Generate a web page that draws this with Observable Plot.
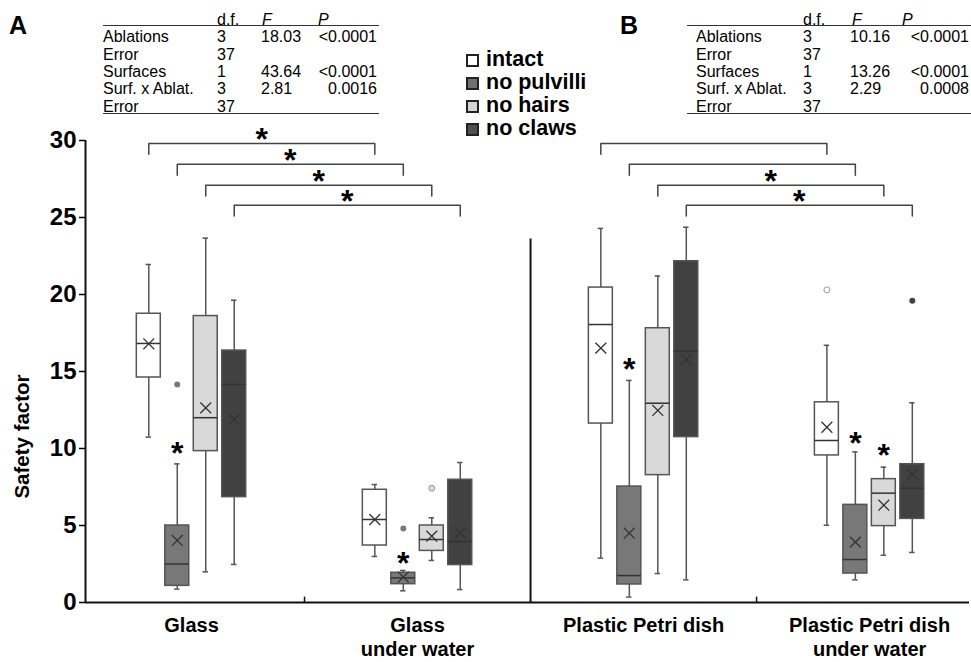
<!DOCTYPE html>
<html><head><meta charset="utf-8">
<script src="https://cdn.jsdelivr.net/npm/d3@7"></script>
<script src="https://cdn.jsdelivr.net/npm/@observablehq/plot@0.6"></script>
<style>
body{margin:0;background:#fff;font-family:"Liberation Sans",Arial,sans-serif;}
#wrap{position:relative;width:971px;height:662px;overflow:hidden;background:#fff}
#wrap svg{position:absolute;left:0;top:0}
.abs{position:absolute;white-space:nowrap;color:#000}
.tbl{font-size:16px;line-height:17px}
.rule{position:absolute;height:0;border-top:1.5px solid #333}
.leg{font-size:21.5px;font-weight:bold;line-height:23px}
.sw{position:absolute;width:13px;height:13px;box-sizing:border-box;border:2px solid #222}
.panel{font-size:25px;font-weight:bold;line-height:25px}
</style></head><body><div id="wrap"></div>
<script>
// ---- data ----
const ablations = ["intact", "no pulvilli", "no hairs", "no claws"];
const surfaceLabels = ["Glass", "Glass\nunder water", "Plastic Petri dish", "Plastic Petri dish\nunder water"];
const yTicks = [0, 5, 10, 15, 20, 25, 30];
// [surface][ablation]
const whiskerHigh = [[21.95, 9.0, 23.66, 19.63], [7.66, 2.08, 5.5, 9.09], [24.29, 14.42, 21.2, 24.37], [16.7, 9.78, 8.79, 12.97]];
const upperQuartile = [[18.75, 5.0, 18.6, 16.36], [7.32, 1.93, 5.0, 7.97], [20.45, 7.53, 17.81, 22.16], [13.0, 6.34, 8.01, 8.98]];
const medians = [[16.82, 2.5, 12.0, 14.16], [5.39, 1.6, 4.09, 3.96], [18.05, 1.75, 12.94, 16.32], [10.52, 2.79, 7.10, 7.42]];
const lowerQuartile = [[14.61, 1.08, 9.83, 6.84], [3.70, 1.19, 3.35, 2.43], [11.62, 1.17, 8.27, 10.74], [9.55, 1.88, 4.96, 5.43]];
const whiskerLow = [[10.74, 0.87, 1.99, 2.47], [2.99, 0.76, 2.73, 0.84], [2.88, 0.35, 1.88, 1.47], [5.02, 1.47, 3.07, 3.25]];
const means = [[16.8, 4.03, 12.64, 11.9], [5.39, 1.65, 4.31, 4.52], [16.52, 4.5, 12.47, 15.78], [11.38, 3.92, 6.32, 8.33]];
// outliers
const outlierSurface = [0, 1, 1, 3, 3];
const outlierAblation = [1, 1, 2, 0, 3];
const outlierValue = [14.16, 4.8, 7.42, 20.3, 19.6];
// significance stars above single boxes
const starSurface = [0, 1, 2, 3, 3];
const starAblation = [1, 1, 1, 1, 2];
const starValue = [9.9, 2.8, 15.4, 10.6, 9.76];
// brackets comparing surfaces (panel A: 0 vs 1, panel B: 2 vs 3)
const bracketLevels = [29.8, 28.45, 27.1, 25.8];
const bracketSignifA = [true, true, true, true];
const bracketSignifB = [false, false, true, true];
const dividerTop = 23.6;
// ANOVA tables
const anovaSources = ["Ablations", "Error", "Surfaces", "Surf. x Ablat.", "Error"];
const anovaDf = ["3", "37", "1", "3", "37"];
const anovaFA = ["18.03", "", "43.64", "2.81", ""];
const anovaPA = ["<0.0001", "", "<0.0001", "0.0016", ""];
const anovaFB = ["10.16", "", "13.26", "2.29", ""];
const anovaPB = ["<0.0001", "", "<0.0001", "0.0008", ""];

// ---- styles / layout ----
const fills = ["#ffffff", "#787878", "#d9d9d9", "#414141"];
const legendFills = ["#ffffff", "#707070", "#d4d4d4", "#505050"];
const DODGE = 0.126, HALF = 0.053, CAP = 0.012;
const xDomain = [-0.469, 3.442];
const pos = (s, a) => s + (a - 1.5) * DODGE;

const boxes = [];
surfaceLabels.forEach((_, s) => ablations.forEach((ab, a) => boxes.push({
  ablation: ab, x: pos(s, a),
  lo: whiskerLow[s][a], q1: lowerQuartile[s][a], med: medians[s][a],
  q3: upperQuartile[s][a], hi: whiskerHigh[s][a], mean: means[s][a]
})));
const outliers = outlierValue.map((v, i) => ({ablation: ablations[outlierAblation[i]], x: pos(outlierSurface[i], outlierAblation[i]), y: v}));
const stars = starValue.map((v, i) => ({x: pos(starSurface[i], starAblation[i]), y: v}));
const brackets = [], bracketStars = [];
[[0, bracketSignifA], [1, bracketSignifB]].forEach(([p, sig]) => {
  bracketLevels.forEach((lv, a) => {
    const xl = pos(p * 2, a), xr = pos(p * 2 + 1, a), id = p + "-" + a;
    brackets.push({id, x: xl, y: lv - 0.7}, {id, x: xl, y: lv}, {id, x: xr, y: lv}, {id, x: xr, y: lv - 0.7});
    if (sig[a]) bracketStars.push({x: (xl + xr) / 2, y: lv});
  });
});

const chart = Plot.plot({
  width: 971, height: 662,
  marginLeft: 85, marginRight: 2, marginTop: 140, marginBottom: 60,
  style: {fontFamily: "'Liberation Sans', Arial, sans-serif", color: "#000", background: "transparent", overflow: "visible"},
  x: {domain: xDomain},
  y: {domain: [0, 30]},
  color: {domain: ablations, range: fills},
  marks: [
    Plot.axisY({ticks: yTicks, tickSize: 6, tickPadding: 3, fontSize: 24, fontWeight: "bold", label: null, strokeWidth: 1.5}),
    Plot.axisX({ticks: [0, 1, 2, 3], tickFormat: i => surfaceLabels[i], tickSize: 0, tickPadding: 12, fontSize: 20, fontWeight: "bold", lineHeight: 1.2, label: null}),
    Plot.text(["Safety factor"], {frameAnchor: "left", textAnchor: "middle", rotate: -90, dx: -63, dy: 65, fontSize: 20.5, fontWeight: "bold"}),
    Plot.ruleX(boxes, {x: "x", y1: "lo", y2: "hi", stroke: "#555", strokeWidth: 1.5}),
    Plot.ruleY(boxes, {y: "hi", x1: d => d.x - CAP, x2: d => d.x + CAP, stroke: "#555", strokeWidth: 1.5}),
    Plot.ruleY(boxes, {y: "lo", x1: d => d.x - CAP, x2: d => d.x + CAP, stroke: "#555", strokeWidth: 1.5}),
    Plot.rect(boxes, {x1: d => d.x - HALF, x2: d => d.x + HALF, y1: "q1", y2: "q3", fill: "ablation", stroke: "#555", strokeWidth: 1.5}),
    Plot.ruleY(boxes, {y: "med", x1: d => d.x - HALF, x2: d => d.x + HALF, stroke: "#333", strokeWidth: 1.5}),
    Plot.dot(boxes, {x: "x", y: "mean", symbol: "times", r: 5, stroke: "#333", strokeWidth: 1.3}),
    Plot.dot(outliers, {x: "x", y: "y", r: 3, fill: "ablation", stroke: d => (d.ablation === "intact" || d.ablation === "no hairs") ? "#9a9a9a" : "none", strokeWidth: 1}),
    Plot.text(stars, {x: "x", y: "y", text: () => "*", fontSize: 32, fontWeight: "bold", dy: 4}),
    Plot.line(brackets, {x: "x", y: "y", z: "id", stroke: "#444", strokeWidth: 1.5}),
    Plot.text(bracketStars, {x: "x", y: "y", text: () => "*", fontSize: 32, fontWeight: "bold", dy: -3.5}),
    Plot.ruleY([0], {stroke: "#111", strokeWidth: 2}),
    Plot.ruleX([xDomain[0]], {y1: 0, y2: 30, stroke: "#111", strokeWidth: 2}),
    Plot.ruleX([1.5], {y1: 0, y2: dividerTop, stroke: "#111", strokeWidth: 2}),
    Plot.ruleX([0.5, 2.5], {y1: 0, y2: 0.35, stroke: "#111", strokeWidth: 1.5})
  ]
});
const wrap = document.getElementById("wrap");
wrap.appendChild(chart);

function add(cls, text, css) {
  const d = document.createElement("div");
  d.className = "abs " + cls;
  d.textContent = text;
  Object.assign(d.style, css);
  wrap.appendChild(d);
  return d;
}
function table(nameX, dfX, fX, pRight, hdrF, hdrP, ruleL, ruleR, F, P) {
  const rowTop = r => (28.2 + r * 17.4) + "px";
  add("tbl", "d.f.", {left: dfX + "px", top: "10.5px"});
  add("tbl", "F", {left: hdrF + "px", top: "10.5px", fontStyle: "italic"});
  add("tbl", "P", {left: hdrP + "px", top: "10.5px", fontStyle: "italic"});
  anovaSources.forEach((s, r) => {
    add("tbl", s, {left: nameX + "px", top: rowTop(r)});
    add("tbl", anovaDf[r], {left: dfX + "px", top: rowTop(r)});
    if (F[r]) add("tbl", F[r], {left: fX + "px", top: rowTop(r)});
    if (P[r]) add("tbl", P[r], {right: (971 - pRight) + "px", top: rowTop(r)});
  });
  const r1 = document.createElement("div"); r1.className = "rule";
  Object.assign(r1.style, {left: ruleL + "px", width: (ruleR - ruleL) + "px", top: "24.5px"}); wrap.appendChild(r1);
  const r2 = document.createElement("div"); r2.className = "rule";
  Object.assign(r2.style, {left: ruleL + "px", width: (ruleR - ruleL) + "px", top: "112.5px"}); wrap.appendChild(r2);
}
table(103, 217, 261, 377, 262, 318, 103, 379, anovaFA, anovaPA);
table(696, 803, 850, 969, 852, 902, 687, 971, anovaFB, anovaPB);

add("panel", "A", {left: "9px", top: "13px"});
add("panel", "B", {left: "620px", top: "13px"});

const legCenters = [60.7, 83.3, 106.7, 129.3];
ablations.forEach((ab, i) => {
  const sw = document.createElement("div");
  sw.className = "sw";
  Object.assign(sw.style, {left: "466px", top: (legCenters[i] - 6.5) + "px", background: legendFills[i]});
  wrap.appendChild(sw);
  add("leg", ab, {left: "486px", top: (legCenters[i] - 12.5) + "px"});
});
</script></body></html>
